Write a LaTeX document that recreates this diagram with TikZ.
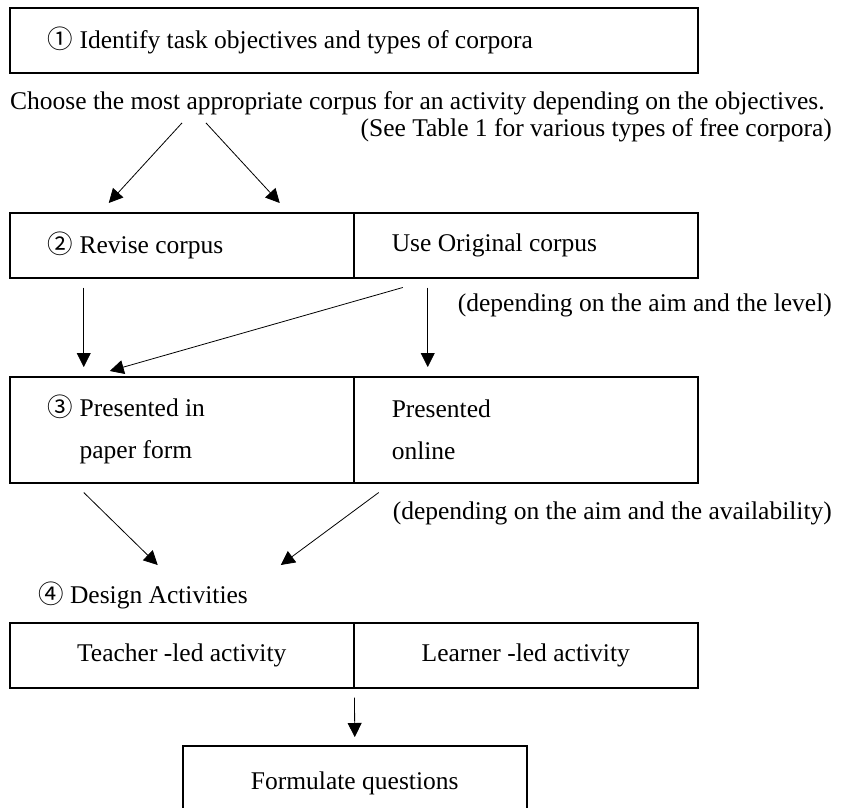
\documentclass[tikz,border=0pt]{standalone}
\usepackage{fontspec}
\setmainfont{Liberation Serif}
\newfontfamily\circfont{Noto Sans CJK JP}
\usetikzlibrary{arrows.meta}
\newcommand{\cnum}[1]{{\circfont #1}}
\tikzset{
  box/.style={draw, line width=1.5pt, minimum height=65pt, inner xsep=38pt,
    inner ysep=0pt, anchor=north west, align=flush left},
  halfbox/.style={box, text width=268pt},
  cbox/.style={box, text width=268pt, align=flush center},
  note/.style={inner sep=0pt},
  arr/.style={-{Triangle[length=14pt,width=14pt]}, line width=0.8pt}
}
\begin{document}
\begin{tikzpicture}[x=1pt, y=-1pt, font=\fontsize{25.5}{42}\selectfont]
    \clip (0,0) rectangle (847,807);
    % step 1
    \node[box, text width=612pt] (ident) at (9,7) {\cnum{①} Identify task objectives and types of corpora};
    \node[note, anchor=west] (choose) at (10,103) {Choose the most appropriate corpus for an activity depending on the objectives.};
    \node[note, anchor=east] (seetbl) at (832,130) {(See Table 1 for various types of free corpora)};
    % step 2
    \node[halfbox] (revise) at (9,212) {\cnum{②} Revise corpus};
    \node[halfbox] (orig) at (353,212) {Use Original corpus};
    \node[note, anchor=east] (level) at (832,305) {(depending on the aim and the level)};
    % step 3
    \node[halfbox, minimum height=106pt] (paper) at (9,376) {\cnum{③} Presented in\\\hphantom{\cnum{③} }paper form};
    \node[halfbox, minimum height=106pt] (online) at (353,376) {Presented\\online};
    \node[note, anchor=east] (avail) at (832,513) {(depending on the aim and the availability)};
    % step 4
    \node[note, anchor=west] (design) at (38,595) {\cnum{④} Design Activities};
    \node[cbox] (teacher) at (9,622) {Teacher -led activity};
    \node[cbox] (learner) at (353,622) {Learner -led activity};
    \node[cbox, minimum height=75pt] (formq) at (182,745) {Formulate questions};
    % arrows
    \draw[arr] ([xshift=172pt,yshift=-8pt]choose.south west) -- ([xshift=-73pt,yshift=9pt]revise.north);
    \draw[arr] ([xshift=196pt,yshift=-8pt]choose.south west) -- ([xshift=98pt,yshift=9pt]revise.north);
    \draw[arr] ([xshift=-98pt,yshift=-9pt]revise.south) -- ([xshift=-98pt,yshift=9pt]paper.north);
    \draw[arr] ([xshift=-123pt,yshift=-9pt]orig.south) -- ([xshift=-72pt,yshift=5pt]paper.north);
    \draw[arr] ([xshift=-98pt,yshift=-9pt]orig.south) -- ([xshift=-98pt,yshift=9pt]online.north);
    \draw[arr] ([xshift=-98pt,yshift=-9pt]paper.south) -- ([xshift=-24pt,yshift=57pt]teacher.north);
    \draw[arr] ([xshift=-147pt,yshift=-9pt]online.south) -- ([xshift=99pt,yshift=57pt]teacher.north);
    \draw[arr] ([yshift=-9pt]teacher.south east) -- ([yshift=8pt]formq.north);
\end{tikzpicture}
\end{document}
